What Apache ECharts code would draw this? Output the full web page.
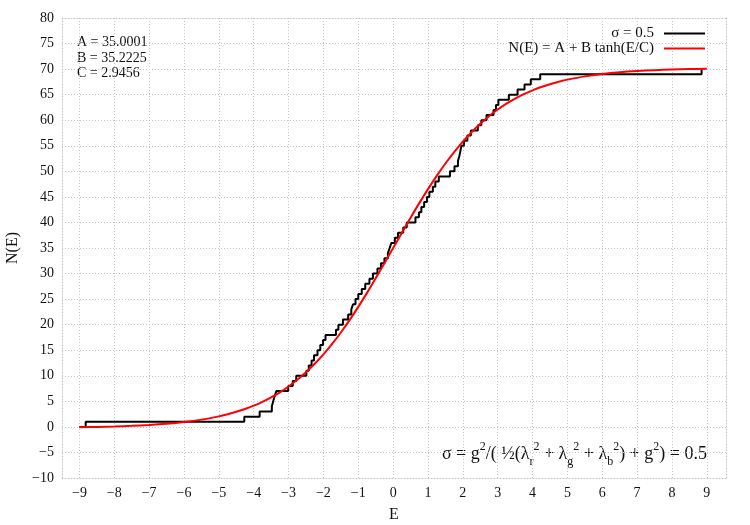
<!DOCTYPE html>
<html>
<head>
<meta charset="utf-8">
<script src="https://cdn.jsdelivr.net/npm/echarts@6/dist/echarts.min.js"></script>
<style>
  html, body { margin: 0; padding: 0; background: #fff; }
  #chart { width: 750px; height: 525px; }
</style>
</head>
<body>
<div id="chart"></div>
<script>
// eigenvalue positions where the staircase N(E) steps up by one
var levels = [
  -8.82, -4.27, -3.83, -3.48, -3.44, -3.40, -3.35, -3.01, -2.88, -2.78,
  -2.49, -2.42, -2.34, -2.27, -2.17, -2.09, -2.01, -1.94, -1.64, -1.57,
  -1.44, -1.29, -1.20, -1.15, -1.08, -1.00, -0.90, -0.80, -0.68, -0.58,
  -0.45, -0.35, -0.25, -0.15, -0.10, -0.05, 0.05, 0.14, 0.29, 0.39,
  0.64, 0.74, 0.81, 0.89, 0.97, 1.04, 1.14, 1.21, 1.31, 1.63,
  1.76, 1.86, 1.90, 1.93, 1.96, 2.03, 2.13, 2.23, 2.43, 2.53,
  2.68, 2.88, 2.95, 3.02, 3.32, 3.57, 3.77, 3.95, 4.22, 8.85
];
var stairStart = -9.0;

// fitted curve
var fitE = [-9, -8.5, -8, -7.5, -7, -6.5, -6, -5.5, -5,
  -4.75, -4.5, -4.25, -4, -3.75, -3.5, -3.25, -3, -2.75, -2.5,
  -2.25, -2, -1.75, -1.5, -1.25, -1, -0.75, -0.5, -0.25, 0,
  0.25, 0.5, 0.75, 1, 1.25, 1.5, 1.75, 2, 2.25, 2.5,
  2.75, 3, 3.25, 3.5, 3.75, 4, 4.25, 4.5, 4.75,
  5, 5.5, 6, 6.5, 7, 7.5, 8, 8.5, 9];
var fitN = [-0.07, 0.00, 0.08, 0.21, 0.38, 0.62, 0.96, 1.42, 2.06,
  2.47, 2.95, 3.50, 4.15, 4.90, 5.77, 6.76, 7.91, 9.21, 10.68,
  12.34, 14.19, 16.23, 18.47, 20.89, 23.48, 26.22, 29.08, 32.02, 35.00,
  37.98, 40.92, 43.78, 46.52, 49.11, 51.53, 53.77, 55.81, 57.66, 59.32,
  60.79, 62.09, 63.24, 64.23, 65.10, 65.85, 66.50, 67.05, 67.53,
  67.94, 68.58, 69.04, 69.38, 69.62, 69.79, 69.92, 70.00, 70.07];

var xTicks = [-9, -8, -7, -6, -5, -4, -3, -2, -1, 0, 1, 2, 3, 4, 5, 6, 7, 8, 9];
var params = ["A = 35.0001", "B = 35.2225", "C = 2.9456"];

var stair = [[stairStart, 0]];
levels.forEach(function (e, i) { stair.push([e, i + 1]); });
var fit = fitE.map(function (e, i) { return [e, fitN[i]]; });

var font = "Liberation Serif";
var minus = function (v) { return String(v).replace("-", "\u2212"); };
var gridLine = { show: true, lineStyle: { color: "#c4c4c4", type: [1, 2], width: 1 } };
var border = { show: true, onZero: false, lineStyle: { color: "#c4c4c4", type: [1, 2], width: 1 } };

var chart = echarts.init(document.getElementById("chart"));
chart.setOption({
  animation: false,
  textStyle: { fontFamily: font, color: "#111" },
  grid: { left: 62, right: 24, top: 18, bottom: 47, containLabel: false, outerBoundsMode: "none" },
  legend: {
    orient: "vertical",
    right: 40,
    top: 21,
    align: "right",
    itemWidth: 41,
    itemHeight: 2,
    itemGap: 0,
    textStyle: { fontFamily: font, fontSize: 15, lineHeight: 14, color: "#111", padding: [0, 5, 0, 0] },
    data: [
      { name: "σ = 0.5", icon: "rect", itemStyle: { color: "#000" } },
      { name: "N(E) = A + B tanh(E/C)", icon: "rect", itemStyle: { color: "#ff0000" } }
    ]
  },
  xAxis: [{
    type: "value",
    min: -9.5,
    max: 9.55,
    name: "E",
    nameLocation: "middle",
    nameGap: 29,
    nameTextStyle: { fontFamily: font, fontSize: 16, color: "#111" },
    axisLine: border,
    axisTick: { show: false, customValues: xTicks },
    axisLabel: { customValues: xTicks, formatter: minus, fontFamily: font, fontSize: 14, color: "#111", margin: 8 },
    splitLine: gridLine
  }, {
    type: "value",
    position: "top",
    min: -9.5,
    max: 9.55,
    axisLine: border,
    axisTick: { show: false },
    axisLabel: { show: false },
    splitLine: { show: false }
  }],
  yAxis: [{
    type: "value",
    min: -10,
    max: 80,
    interval: 5,
    name: "N(E)",
    nameLocation: "middle",
    nameGap: 40,
    nameTextStyle: { fontFamily: font, fontSize: 16, color: "#111" },
    axisLine: border,
    axisTick: { show: false },
    axisLabel: { formatter: minus, fontFamily: font, fontSize: 14, color: "#111", margin: 8 },
    splitLine: gridLine
  }, {
    type: "value",
    position: "right",
    min: -10,
    max: 80,
    axisLine: border,
    axisTick: { show: false },
    axisLabel: { show: false },
    splitLine: { show: false }
  }],
  series: [{
    name: "σ = 0.5",
    type: "line",
    step: "end",
    data: stair,
    symbol: "none",
    lineStyle: { color: "#000", width: 2 },
    itemStyle: { color: "#000" },
    z: 2
  }, {
    name: "N(E) = A + B tanh(E/C)",
    type: "line",
    smooth: 0.3,
    data: fit,
    symbol: "none",
    lineStyle: { color: "#ff0000", width: 2 },
    itemStyle: { color: "#ff0000" },
    z: 3
  }],
  graphic: [{
    type: "text",
    left: 77,
    top: 35,
    style: {
      text: params.join("\n"),
      font: "14px 'Liberation Serif'",
      fill: "#111",
      lineHeight: 15.5
    }
  }, {
    type: "text",
    right: 43,
    top: 441,
    style: {
      text: "σ = g{sup|2}/( ½(λ{sub|r}{sup|2} + λ{sub|g}{sup|2} + λ{sub|b}{sup|2}) + g{sup|2}) = 0.5",
      font: "18px 'Liberation Serif'",
      fill: "#111",
      lineHeight: 27,
      rich: {
        sup: { fontSize: 12, fontFamily: font, verticalAlign: "top", lineHeight: 27, fill: "#111" },
        sub: { fontSize: 12, fontFamily: font, verticalAlign: "bottom", lineHeight: 27, fill: "#111" }
      }
    }
  }]
});
</script>
</body>
</html>
